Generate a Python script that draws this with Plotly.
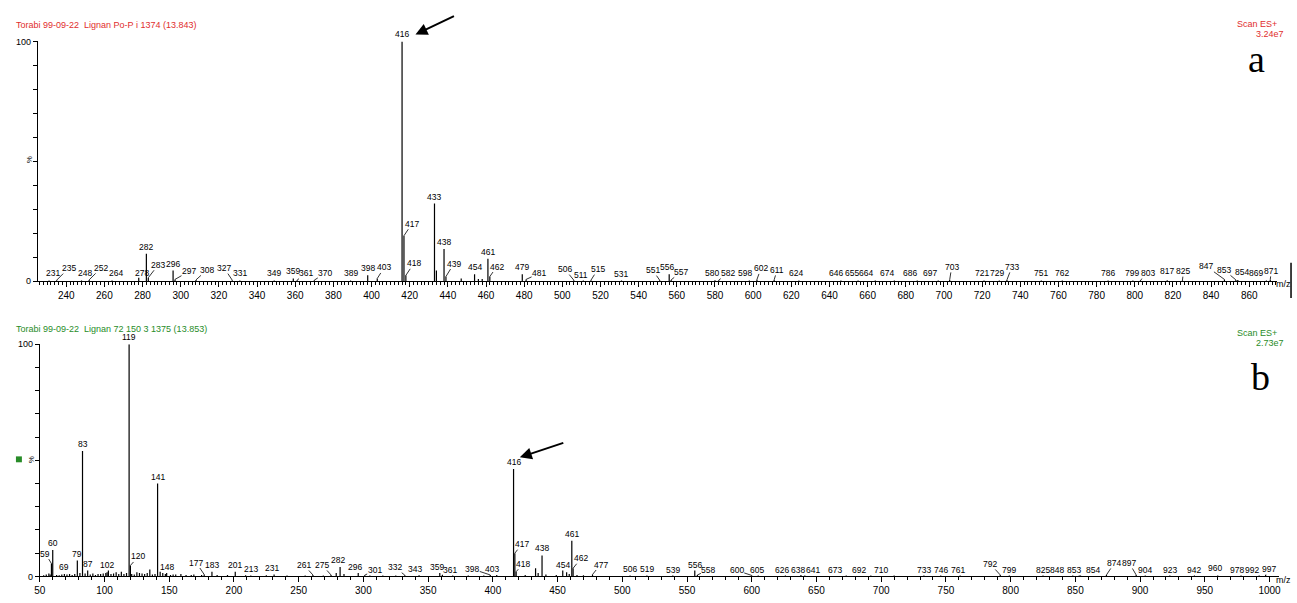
import plotly.graph_objects as go

W, H = 1297, 603

# ---------------- data (panel a) ----------------
mz_a = [231, 235, 248, 252, 264, 278, 282, 283, 296, 297, 308, 327, 331, 349, 359, 361, 370, 389,
        398, 403, 416, 417, 418, 433, 434, 438, 439, 447, 454, 456, 458, 461, 462, 479, 481, 506,
        511, 515, 531, 551, 556, 557, 580, 582, 598, 602, 611, 624, 646, 655, 664, 674, 686, 697,
        703, 721, 729, 733, 751, 762, 786, 799, 803, 817, 825, 847, 853, 854, 869, 871]
int_a = [0.4, 0.5, 0.4, 0.6, 0.4, 1.5, 11.5, 1.5, 4.5, 0.8, 0.6, 0.5, 0.4, 0.4, 1.2, 0.5, 0.5, 0.4,
         2.5, 1.2, 100, 19, 2.5, 32.4, 4.5, 13.5, 2.0, 1.2, 3.0, 1.0, 1.0, 9.4, 2.0, 3.0, 0.8, 0.5,
         0.4, 0.5, 0.4, 0.5, 3.0, 0.6, 0.5, 0.5, 0.4, 0.8, 0.6, 0.4, 0.4, 0.4, 0.4, 0.4, 0.4, 0.4,
         0.6, 0.4, 0.4, 0.6, 0.4, 0.4, 0.4, 0.4, 0.5, 0.5, 0.5, 0.8, 0.6, 0.6, 0.4, 0.6]
unlabeled_a = [434, 447, 456, 458]

# ---------------- data (panel b) ----------------
mz_b = [59, 60, 69, 79, 83, 87, 102, 119, 120, 141, 148, 177, 183, 201, 213, 231, 261, 275, 282,
        296, 301, 332, 343, 359, 361, 398, 403, 416, 417, 418, 438, 454, 461, 462, 477, 506, 519,
        539, 556, 558, 600, 605, 626, 638, 641, 673, 692, 710, 733, 746, 761, 792, 799, 825, 848,
        853, 854, 874, 897, 904, 923, 942, 960, 978, 992, 997]
int_b = [5.5, 11.4, 1.0, 6.8, 54, 2.5, 1.8, 100, 4.7, 40, 1.5, 0.8, 2.0, 2.0, 0.4, 0.8, 0.6, 0.6, 4.0,
         1.5, 0.5, 0.5, 0.5, 1.5, 0.6, 0.6, 0.6, 46.3, 10, 2.0, 9.0, 2.5, 15.3, 3.5, 0.8, 0.4, 0.4,
         0.4, 2.5, 0.6, 0.4, 0.4, 0.4, 0.6, 0.4, 0.4, 0.4, 0.4, 0.4, 0.4, 0.4, 0.6, 0.4, 0.4, 0.4,
         0.4, 0.4, 0.6, 0.6, 0.4, 0.4, 0.4, 0.4, 0.4, 0.4, 0.6]
noise_mz_b = [53, 55, 57, 58, 63, 65, 67, 71, 73, 75, 77, 81, 85, 89, 91, 93, 95, 97, 99, 101, 103,
              105, 107, 109, 111, 113, 115, 117, 121, 123, 125, 127, 129, 131, 133, 135, 137, 139,
              143, 145, 147, 151, 153, 155, 159, 163, 167, 169, 175, 187, 195, 209, 225, 241, 255,
              269, 279, 285, 305, 315, 325, 369, 381, 393, 425, 433, 435, 441, 449, 457, 459, 465, 470]
noise_int_b = [0.5, 0.8, 1.2, 0.8, 0.6, 0.5, 0.8, 0.8, 1.0, 0.6, 1.0, 1.5, 1.2, 0.8, 1.2, 0.6, 1.0,
               1.0, 1.2, 1.5, 2.5, 1.0, 1.2, 1.8, 1.0, 2.0, 1.0, 1.5, 1.0, 0.8, 1.8, 1.5, 1.2, 1.0,
               1.5, 3.0, 0.8, 1.0, 2.0, 1.5, 1.0, 0.6, 0.8, 0.8, 1.0, 0.6, 0.6, 0.8, 0.6, 0.6, 0.6,
               0.5, 0.5, 0.4, 0.4, 0.4, 1.5, 1.0, 0.4, 0.4, 0.4, 0.4, 0.4, 0.4, 0.6, 3.5, 1.5, 0.8,
               0.6, 1.8, 1.0, 0.6, 0.5]

xticks_a = list(range(240, 861, 20))
xticks_b = list(range(50, 1001, 50))
yticks = list(range(0, 101, 10))

title_a = "Torabi 99-09-22  Lignan Po-P i 1374 (13.843)"
title_b = "Torabi 99-09-22  Lignan 72 150 3 1375 (13.853)"
scan_a = ("Scan ES+", "3.24e7")
scan_b = ("Scan ES+", "2.73e7")

# ---------------- label placement (pixel offsets: dx, dy, leader line) ----------------
lab_a = {231: (4, -7, 0), 235: (12, -12, 1), 248: (3, -7, 0), 252: (12, -12, 1), 264: (4, -7, 0),
         278: (3, -5, 0), 282: (0, -7, 0), 283: (10, -13, 1), 296: (0, -7, 0), 297: (14, -8, 1),
         308: (11, -10, 1), 327: (-8, -12, 1), 331: (0, -7, 0), 349: (0, -7, 0), 359: (0, -7, 0),
         361: (9, -7, 1), 370: (11, -7, 1), 389: (0, -7, 0), 398: (0, -7, 0), 403: (7, -11, 1),
         416: (0, -7, 0), 417: (8, -12, 1), 418: (8, -12, 1), 433: (0, -7, 0), 438: (0, -7, 0),
         439: (8, -13, 1), 454: (0, -7, 0), 461: (0, -7, 0), 462: (7, -10, 1), 479: (0, -7, 0),
         481: (13, -6, 1), 506: (-9, -11, 1), 511: (-2, -5, 0), 515: (7, -11, 1), 531: (0, -6, 0),
         551: (-7, -10, 1), 556: (-2, -7, 0), 557: (10, -8, 1), 580: (-3, -7, 0), 582: (9, -7, 1),
         598: (-4, -7, 0), 602: (4, -11, 1), 611: (3, -10, 1), 624: (-3, -7, 0), 646: (-5, -7, 0),
         655: (-6, -7, 0), 664: (-9, -7, 0), 674: (-7, -7, 0), 686: (-7, -7, 0), 697: (-8, -7, 0),
         703: (2, -13, 1), 721: (-2, -7, 0), 729: (-2, -7, 0), 733: (5, -13, 1), 751: (0, -7, 0),
         762: (0, -7, 0), 786: (0, -7, 0), 799: (-1, -7, 0), 803: (8, -7, 1), 817: (0, -9, 0),
         825: (1, -9, 1), 847: (-18, -13, 1), 853: (-12, -10, 1), 854: (4, -8, 0), 869: (-10, -7, 0),
         871: (1, -9, 1)}
lab_b = {59: (-6, -10, 1), 60: (0, -7, 0), 69: (0, -7, 0), 79: (0, -7, 0), 83: (0, -7, 0),
         87: (0, -7, 0), 102: (0, -7, 0), 119: (0, -7, 0), 120: (8, -9, 1), 141: (0, -7, 0),
         148: (0, -6, 0), 177: (-8, -12, 1), 183: (0, -7, 0), 201: (0, -7, 0), 213: (0, -6, 0),
         231: (-2, -7, 0), 261: (-9, -10, 1), 275: (-9, -10, 1), 282: (-2, -7, 0), 296: (-3, -6, 0),
         301: (10, -5, 1), 332: (-10, -8, 1), 343: (-4, -6, 0), 359: (-3, -6, 0), 361: (8, -5, 1),
         398: (-18, -6, 1), 403: (-5, -6, 0), 416: (0, -7, 0), 417: (7, -9, 1), 418: (7, -8, 1),
         438: (0, -7, 0), 454: (0, -6, 0), 461: (0, -7, 0), 462: (8, -10, 1), 477: (8, -10, 1),
         506: (0, -6, 0), 519: (0, -6, 0), 539: (0, -5, 0), 556: (0, -6, 0), 558: (11, -5, 1),
         600: (-15, -5, 1), 605: (-1, -5, 0), 626: (-3, -5, 0), 638: (-3, -5, 0), 641: (8, -5, 0),
         673: (-11, -5, 0), 692: (-12, -5, 0), 710: (-13, -5, 0), 733: (0, -5, 0), 746: (0, -5, 0),
         761: (-2, -5, 0), 792: (-10, -11, 1), 799: (0, -5, 0), 825: (0, -5, 0), 848: (-16, -5, 0),
         853: (-5, -5, 0), 854: (12, -5, 0), 874: (8, -12, 1), 897: (-7, -12, 1), 904: (0, -5, 0),
         923: (0, -5, 0), 942: (0, -5, 0), 960: (-3, -7, 0), 978: (-4, -5, 0), 992: (-7, -5, 0),
         997: (3, -6, 1)}

FONT = "Arial, Liberation Sans, sans-serif"
RED = "rgb(225,45,45)"
GREEN = "rgb(40,140,40)"


def px(x):
    return x / W


def py(y):
    return 1 - y / H


def sticks(mz, inten):
    xs, ys = [], []
    for m, v in zip(mz, inten):
        xs += [m, m, None]
        ys += [0, v, None]
    return xs, ys


fig = go.Figure()

xa, ya = sticks(mz_a, int_a)
fig.add_trace(go.Scatter(x=xa, y=ya, mode="lines", line=dict(color="black", width=1.2),
                         xaxis="x", yaxis="y", hoverinfo="skip", showlegend=False))
xb, yb = sticks(mz_b + noise_mz_b, int_b + noise_int_b)
fig.add_trace(go.Scatter(x=xb, y=yb, mode="lines", line=dict(color="black", width=1.2),
                         xaxis="x2", yaxis="y2", hoverinfo="skip", showlegend=False))

ann = []


def peak_labels(mz, inten, specs, xr, yr, skip=()):
    for m, v in zip(mz, inten):
        if m in skip or m not in specs:
            continue
        dx, dy, lead = specs[m]
        ann.append(dict(x=m, y=v, xref=xr, yref=yr, text=str(m), showarrow=True,
                        ax=dx, ay=dy, arrowhead=0, arrowwidth=0.8, standoff=0, borderpad=0,
                        arrowcolor="black" if lead else "rgba(0,0,0,0)",
                        font=dict(family=FONT, size=8.5, color="black")))


peak_labels(mz_a, int_a, lab_a, "x", "y", skip=unlabeled_a)
peak_labels(mz_b, int_b, lab_b, "x2", "y2")

# arrows pointing at the 416 labels
for tipx, tipy, ax_, ay_ in [(412, 30, 40, -19), (517, 460, 45, -15)]:
    ann.append(dict(x=px(tipx), y=py(tipy), xref="paper", yref="paper", text="", showarrow=True,
                    ax=ax_, ay=ay_, arrowhead=2, arrowsize=1.2, arrowwidth=2,
                    arrowcolor="black", standoff=0))


def txt(x, y, s, size=9, color="black", xanchor="center", family=FONT, angle=0):
    ann.append(dict(x=px(x), y=py(y), xref="paper", yref="paper", text=s, showarrow=False,
                    xanchor=xanchor, yanchor="middle", textangle=angle,
                    font=dict(family=family, size=size, color=color)))


txt(8, 20, title_a, 9, RED, "left")
txt(8, 329, title_b, 9, GREEN, "left")
txt(1281, 19, scan_a[0], 9, RED, "right")
txt(1288, 29, scan_a[1], 9, RED, "right")
txt(1281, 334, scan_b[0], 9, GREEN, "right")
txt(1288, 344, scan_b[1], 9, GREEN, "right")
txt(1258, 55, "a", 38, "black", family="Liberation Serif, Times New Roman, serif")
txt(1262, 378, "b", 38, "black", family="Liberation Serif, Times New Roman, serif")
txt(24, 157, "%", 8, "black", angle=-90)
txt(25, 462, "%", 8, "black", angle=-90)
txt(1285, 284, "m/z", 9)
txt(1285, 585, "m/z", 9)

fig.update_layout(annotations=ann)

shapes = [
    dict(type="rect", xref="paper", yref="paper", x0=px(10), x1=px(16), y0=py(465), y1=py(459),
         fillcolor=GREEN, line=dict(width=0)),
    dict(type="line", xref="paper", yref="paper", x0=px(1293), x1=px(1293), y0=py(262), y1=py(298),
         line=dict(color="black", width=1.5)),
]
fig.update_layout(shapes=shapes)

xcommon = dict(showline=True, linecolor="black", linewidth=1, ticks="outside", ticklen=5,
               tickcolor="black", showgrid=False, zeroline=False,
               tickfont=dict(family=FONT, size=10, color="black"))
ycommon = dict(showline=True, linecolor="black", linewidth=1, ticks="outside", ticklen=4,
               tickcolor="black", showgrid=False, zeroline=False, range=[0, 100],
               tickvals=yticks, ticktext=[str(t) if t in (0, 100) else "" for t in yticks],
               tickfont=dict(family=FONT, size=9, color="black"))

fig.update_layout(
    width=W, height=H, margin=dict(l=0, r=0, t=0, b=0),
    paper_bgcolor="white", plot_bgcolor="white", showlegend=False,
    xaxis=dict(xcommon, domain=[px(32), px(1279)], range=[225.1, 874.6], anchor="y",
               tickvals=xticks_a,
               minor=dict(dtick=2, tick0=0, ticks="outside", ticklen=3, tickcolor="black",
                          showgrid=False)),
    yaxis=dict(ycommon, domain=[py(281), py(37)], anchor="x"),
    xaxis2=dict(xcommon, domain=[px(34), px(1281)], range=[50, 1007.4], anchor="y2",
                tickvals=xticks_b,
                minor=dict(dtick=10, tick0=0, ticks="outside", ticklen=3, tickcolor="black",
                           showgrid=False)),
    yaxis2=dict(ycommon, domain=[py(581), py(345)], anchor="x2"),
)

fig.write_html("out.html", config={"displayModeBar": False},
               post_script="document.body.style.margin='0';document.body.style.padding='0';"
                           "document.body.style.overflow='hidden';")
